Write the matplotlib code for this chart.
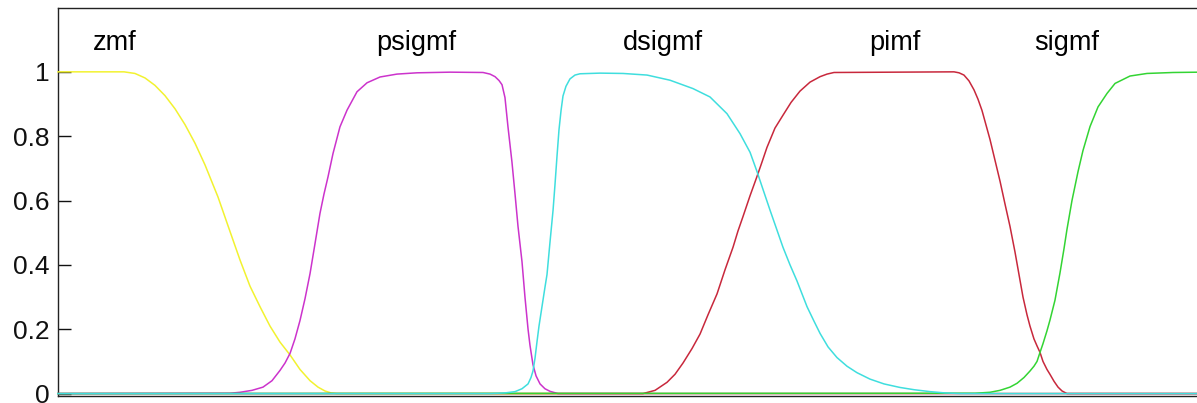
import matplotlib
matplotlib.use('Agg')
import matplotlib.pyplot as plt

# membership curves, x in 0..10 axis units
zmf_x = [0, 0.578, 0.674, 0.762, 0.849, 0.937, 1.025, 1.112, 1.200, 1.287, 1.401, 1.506,
         1.594, 1.681, 1.769, 1.856, 1.944, 2.032, 2.119, 2.207, 2.277, 2.338, 2.391, 2.443, 10]
zmf_y = [1, 1, 0.995, 0.981, 0.958, 0.926, 0.885, 0.836, 0.778, 0.711, 0.611, 0.504,
         0.415, 0.334, 0.27, 0.21, 0.16, 0.12, 0.075, 0.04, 0.02, 0.008, 0.002, 0, 0]

psig_x = [0, 1.506, 1.594, 1.699, 1.795, 1.874, 1.944, 1.988, 2.032, 2.075, 2.119, 2.163,
          2.207, 2.250, 2.294, 2.329, 2.364, 2.408, 2.469, 2.531, 2.618, 2.706, 2.820, 2.968,
          3.144, 3.433, 3.722, 3.783, 3.827, 3.862, 3.888, 3.914, 3.940, 3.975, 4.002, 4.028,
          4.063, 4.089, 4.116, 4.133, 4.159, 4.186, 4.221, 4.264, 4.308, 4.378, 10]
psig_y = [0, 0.001, 0.004, 0.01, 0.02, 0.04, 0.072, 0.095, 0.125, 0.17, 0.227, 0.295,
          0.373, 0.465, 0.56, 0.62, 0.673, 0.746, 0.829, 0.881, 0.938, 0.966, 0.984, 0.993,
          0.997, 0.999, 0.998, 0.993, 0.985, 0.973, 0.96, 0.92, 0.83, 0.72, 0.62, 0.52,
          0.41, 0.30, 0.20, 0.15, 0.09, 0.055, 0.03, 0.015, 0.007, 0, 0]

dsig_x = [0, 3.783, 3.914, 4.002, 4.063, 4.116, 4.142, 4.159, 4.177, 4.194, 4.212, 4.238,
          4.264, 4.282, 4.308, 4.335, 4.352, 4.370, 4.387, 4.405, 4.422, 4.448, 4.483, 4.527,
          4.571, 4.746, 4.947, 5.158, 5.359, 5.560, 5.709, 5.858, 5.972, 6.060, 6.121, 6.173,
          6.235, 6.296, 6.348, 6.410, 6.471, 6.559, 6.620, 6.673, 6.743, 6.821, 6.909, 6.996,
          7.110, 7.233, 7.373, 7.496, 7.636, 7.767, 7.898, 10]
dsig_y = [0, 0, 0.002, 0.006, 0.015, 0.03, 0.05, 0.07, 0.11, 0.16, 0.21, 0.27,
          0.33, 0.37, 0.47, 0.57, 0.65, 0.74, 0.82, 0.88, 0.925, 0.955, 0.978, 0.99,
          0.994, 0.996, 0.995, 0.99, 0.974, 0.948, 0.922, 0.87, 0.808, 0.75, 0.69, 0.635,
          0.57, 0.508, 0.455, 0.40, 0.35, 0.27, 0.225, 0.187, 0.145, 0.112, 0.085, 0.065,
          0.045, 0.03, 0.019, 0.012, 0.006, 0.002, 0, 0]

pimf_x = [0, 5.123, 5.228, 5.333, 5.403, 5.473, 5.552, 5.622, 5.692, 5.771, 5.841, 5.911,
          5.954, 5.998, 6.060, 6.121, 6.165, 6.208, 6.278, 6.348, 6.419, 6.497, 6.585, 6.673,
          6.734, 6.795, 7.846, 7.890, 7.933, 7.977, 8.021, 8.056, 8.091, 8.126, 8.161, 8.205,
          8.249, 8.292, 8.336, 8.380, 8.415, 8.450, 8.485, 8.511, 8.546, 8.573, 8.599, 8.625,
          8.660, 8.686, 8.722, 8.757, 8.792, 8.835, 10]
pimf_y = [0, 0, 0.01, 0.035, 0.06, 0.095, 0.14, 0.185, 0.245, 0.31, 0.385, 0.455,
          0.505, 0.55, 0.615, 0.675, 0.72, 0.765, 0.825, 0.865, 0.905, 0.94, 0.968, 0.985,
          0.993, 0.998, 1.0, 0.997, 0.99, 0.972, 0.944, 0.915, 0.88, 0.835, 0.79, 0.725,
          0.66, 0.59, 0.52, 0.44, 0.37, 0.30, 0.245, 0.21, 0.17, 0.148, 0.128, 0.10,
          0.075, 0.06, 0.038, 0.02, 0.008, 0, 0]

sig_x = [0, 8.030, 8.161, 8.249, 8.336, 8.398, 8.459, 8.511, 8.546, 8.573, 8.599, 8.625,
         8.660, 8.686, 8.730, 8.774, 8.809, 8.835, 8.879, 8.932, 8.975, 9.037, 9.107, 9.186,
         9.256, 9.387, 9.536, 9.764, 10]
sig_y = [0, 0.001, 0.004, 0.01, 0.02, 0.032, 0.05, 0.07, 0.085, 0.10, 0.128, 0.155,
         0.195, 0.228, 0.29, 0.375, 0.45, 0.51, 0.60, 0.69, 0.755, 0.83, 0.891, 0.933,
         0.964, 0.987, 0.995, 0.998, 0.999]

labels = ['zmf', 'psigmf', 'dsigmf', 'pimf', 'sigmf']
label_x = [0.495, 3.135, 5.293, 7.325, 8.831]
label_y = 1.0675

ytick_vals = [0, 0.2, 0.4, 0.6, 0.8, 1]
ytick_text = ['0', '0.2', '0.4', '0.6', '0.8', '1']

plt.rcParams['font.family'] = ['Liberation Sans', 'DejaVu Sans']

fig = plt.figure(figsize=(11.97, 4.03), dpi=100)
ax = fig.add_axes([58 / 1197, 7.5 / 403, (1200 - 58) / 1197, (395.5 - 7.5) / 403])

# cyan last so it sits on top along the zero line, like the original
series = [
    (zmf_x, zmf_y, '#f2f230'),
    (psig_x, psig_y, '#cc33cc'),
    (pimf_x, pimf_y, '#c8283c'),
    (sig_x, sig_y, '#33d433'),
    (dsig_x, dsig_y, '#3fdede'),
]
for xs, ys, c in series:
    ax.plot(xs, ys, color=c, lw=1.1, clip_on=False, zorder=3,
            solid_joinstyle='round')

for name, lx in zip(labels, label_x):
    ax.text(lx, label_y, name, ha='center', va='baseline', fontsize=19.5, color='black')

ax.set_xlim(0, 10)
ax.set_ylim(-0.006, 1.2)
ax.set_xticks([])
ax.set_yticks(ytick_vals)
ax.set_yticklabels(ytick_text)
ax.tick_params(axis='y', direction='in', length=9, width=1.0, pad=6, labelsize=19,
               colors='#111111')
for s in ax.spines.values():
    s.set_linewidth(1.0)
    s.set_color('#222222')
    s.set_zorder(2)

fig.savefig('out.png', dpi=100)
